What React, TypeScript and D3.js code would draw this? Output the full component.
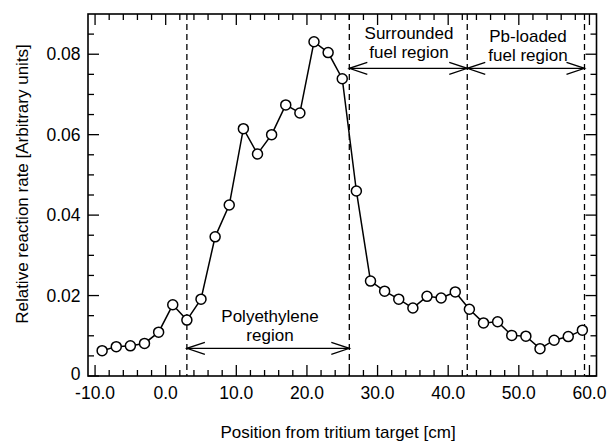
import React from "react";
import * as d3 from "d3";

// Measured reaction-rate distribution along the assembly axis
const positions = [
  -9, -7, -5, -3, -1, 1, 3, 5, 7, 9, 11, 13, 15, 17, 19, 21, 23, 25, 27, 29,
  31, 33, 35, 37, 39, 41, 43, 45, 47, 49, 51, 53, 55, 57, 59,
];
const rates = [
  0.0063, 0.0073, 0.0075, 0.0081, 0.0109, 0.0177, 0.0139, 0.0191, 0.0346,
  0.0425, 0.0615, 0.0552, 0.06, 0.0674, 0.0654, 0.0831, 0.0804, 0.0739, 0.046,
  0.0236, 0.0211, 0.0191, 0.0169, 0.0198, 0.0194, 0.0209, 0.0166, 0.0132,
  0.0135, 0.0101, 0.0099, 0.0068, 0.0089, 0.0098, 0.0114,
];

// Region boundaries (cm)
const boundaries = [3, 26, 42.7, 59.3];

// Axis ticks
const xMajorTicks = [-10, 0, 10, 20, 30, 40, 50, 60];
const xTickLabels = ["-10.0", "0.0", "10.0", "20.0", "30.0", "40.0", "50.0", "60.0"];
const yMajorTicks = [0, 0.02, 0.04, 0.06, 0.08];
const yTickLabels = ["0", "0.02", "0.04", "0.06", "0.08"];

const W = 608;
const H = 441;
const plot = { left: 88, right: 596.5, top: 14, bottom: 376 };
const FONT = "Liberation Sans, Arial, Helvetica, sans-serif";
const FS = 17.5;
const LABEL_FS = 17;

export default function App() {
  const x = d3.scaleLinear().domain([-11, 61]).range([plot.left, plot.right]);
  const y = d3.scaleLinear().domain([0, 0.09]).range([plot.bottom, plot.top]);

  const xMinor = d3.range(-10, 61, 2).filter((v) => !xMajorTicks.includes(v));
  const yMinor = d3
    .range(0.005, 0.09, 0.005)
    .filter((v) => !yMajorTicks.some((m) => Math.abs(m - v) < 1e-9));

  const line = d3
    .line<number>()
    .x((_, i) => x(positions[i]))
    .y((d) => y(d));

  const MAJ = 11;
  const MIN = 6;

  const arrow = (x1: number, x2: number, yy: number, key: string) => {
    const a = 18;
    const b = 6;
    return (
      <g key={key} stroke="#000" strokeWidth={1.3} fill="none">
        <line x1={x1} x2={x2} y1={yy} y2={yy} />
        <polyline points={`${x1 + a},${yy - b} ${x1},${yy} ${x1 + a},${yy + b}`} />
        <polyline points={`${x2 - a},${yy - b} ${x2},${yy} ${x2 - a},${yy + b}`} />
      </g>
    );
  };

  return (
    <svg
      width={W}
      height={H}
      style={{ position: "absolute", left: 0, top: 0, background: "#fff" }}
      fontFamily={FONT}
    >
      <rect width={W} height={H} fill="#fff" />

      {/* region boundaries */}
      {boundaries.map((b, i) => (
        <line
          key={`b${i}`}
          x1={x(b)}
          x2={x(b)}
          y1={plot.top}
          y2={plot.bottom}
          stroke="#000"
          strokeWidth={1.3}
          strokeDasharray="6,4"
        />
      ))}

      {/* region arrows */}
      {arrow(x(boundaries[0]), x(boundaries[1]), 348.3, "a1")}
      {arrow(x(boundaries[1]), x(boundaries[2]), 68.3, "a2")}
      {arrow(x(boundaries[2]), x(boundaries[3]), 68.3, "a3")}

      {/* region labels */}
      <g fontSize={LABEL_FS} fill="#000" textAnchor="middle">
        <text x={270} y={322}>Polyethylene</text>
        <text x={270} y={341}>region</text>
        <text x={409} y={38.5}>Surrounded</text>
        <text x={409} y={57.5}>fuel region</text>
        <text x={528} y={42}>Pb-loaded</text>
        <text x={528} y={61}>fuel region</text>
      </g>

      {/* data */}
      <path d={line(rates) ?? ""} fill="none" stroke="#000" strokeWidth={1.5} />
      {rates.map((v, i) => (
        <circle
          key={`p${i}`}
          cx={x(positions[i])}
          cy={y(v)}
          r={5}
          fill="#fff"
          stroke="#000"
          strokeWidth={1.5}
        />
      ))}

      {/* ticks (inward, all four sides) */}
      <g stroke="#000" strokeWidth={1.3}>
        {xMajorTicks.map((v) => (
          <g key={`xM${v}`}>
            <line x1={x(v)} x2={x(v)} y1={plot.bottom} y2={plot.bottom - MAJ} />
            <line x1={x(v)} x2={x(v)} y1={plot.top} y2={plot.top + MAJ} />
          </g>
        ))}
        {xMinor.map((v) => (
          <g key={`xm${v}`}>
            <line x1={x(v)} x2={x(v)} y1={plot.bottom} y2={plot.bottom - MIN} />
            <line x1={x(v)} x2={x(v)} y1={plot.top} y2={plot.top + MIN} />
          </g>
        ))}
        {yMajorTicks.map((v) => (
          <g key={`yM${v}`}>
            <line x1={plot.left} x2={plot.left + MAJ} y1={y(v)} y2={y(v)} />
            <line x1={plot.right} x2={plot.right - MAJ} y1={y(v)} y2={y(v)} />
          </g>
        ))}
        {yMinor.map((v, i) => (
          <g key={`ym${i}`}>
            <line x1={plot.left} x2={plot.left + MIN} y1={y(v)} y2={y(v)} />
            <line x1={plot.right} x2={plot.right - MIN} y1={y(v)} y2={y(v)} />
          </g>
        ))}
      </g>

      {/* frame */}
      <rect
        x={plot.left}
        y={plot.top}
        width={plot.right - plot.left}
        height={plot.bottom - plot.top}
        fill="none"
        stroke="#000"
        strokeWidth={1.6}
      />

      {/* tick labels */}
      <g fontSize={FS} fill="#000">
        {xMajorTicks.map((v, i) => (
          <text key={`xl${v}`} x={x(v)} y={399} textAnchor="middle">
            {xTickLabels[i]}
          </text>
        ))}
        {yMajorTicks.map((v, i) => (
          <text
            key={`yl${v}`}
            x={80.5}
            y={y(v) + (v === 0 ? 3.5 : 6.2)}
            textAnchor="end"
          >
            {yTickLabels[i]}
          </text>
        ))}
      </g>

      {/* axis titles */}
      <text x={338} y={438} fontSize={17} textAnchor="middle" fill="#000">
        Position from tritium target [cm]
      </text>
      <text
        transform="translate(28,184) rotate(-90)"
        fontSize={17}
        textAnchor="middle"
        fill="#000"
      >
        Relative reaction rate [Arbitrary units]
      </text>
    </svg>
  );
}
